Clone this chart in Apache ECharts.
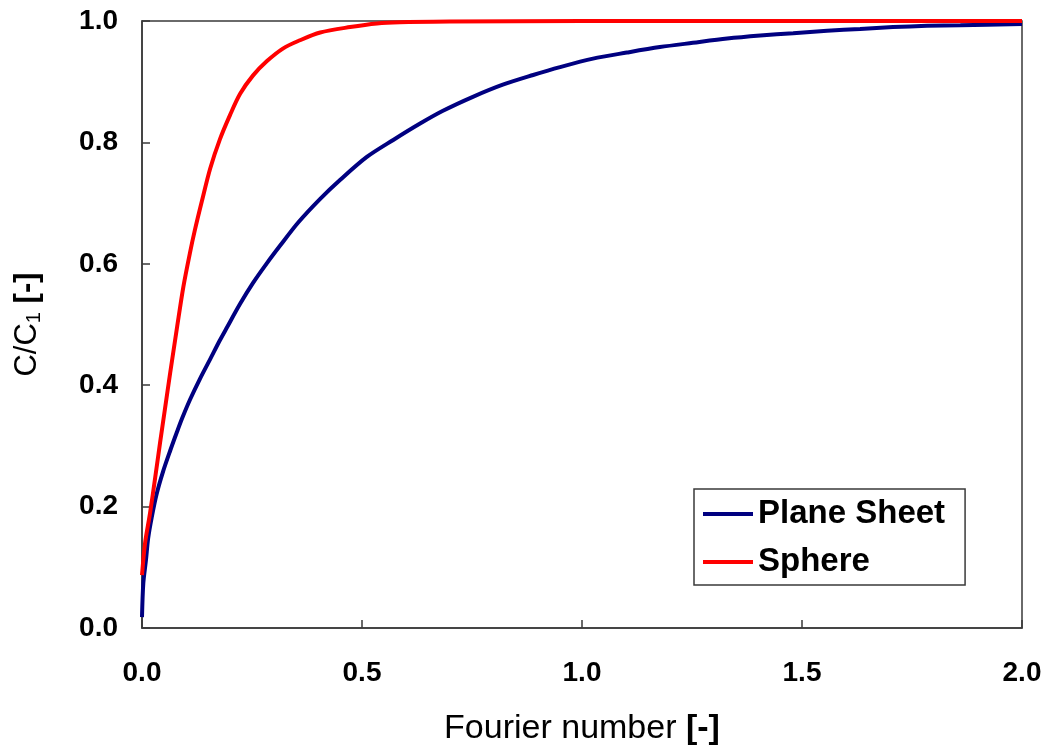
<!DOCTYPE html>
<html>
<head>
<meta charset="utf-8">
<script src="https://cdn.jsdelivr.net/npm/echarts@6/dist/echarts.min.js"></script>
<style>
  html, body { margin: 0; padding: 0; background: #fff; }
  #chart { width: 1048px; height: 751px; }
</style>
</head>
<body>
<div id="chart"></div>
<script>
// Fractional uptake C/C1 against Fourier number for two geometries
const seriesNames = ['Plane Sheet', 'Sphere'];

const foPlane = [0, 0.003, 0.009, 0.014, 0.022, 0.033, 0.048, 0.064, 0.079, 0.091,
  0.109, 0.132, 0.155, 0.177, 0.193, 0.223, 0.252, 0.284, 0.314, 0.355,
  0.405, 0.45, 0.511, 0.571, 0.632, 0.684, 0.752, 0.820, 0.889, 0.95,
  1.025, 1.102, 1.177, 1.252, 1.33, 1.405, 1.48, 1.557, 1.632, 1.707,
  1.784, 1.86, 2.0];
const cPlane = [0.018, 0.074, 0.112, 0.148, 0.182, 0.220, 0.258, 0.292, 0.322, 0.345,
  0.376, 0.411, 0.443, 0.474, 0.495, 0.534, 0.568, 0.601, 0.630, 0.668,
  0.707, 0.738, 0.776, 0.804, 0.831, 0.852, 0.875, 0.895, 0.911, 0.924,
  0.938, 0.948, 0.957, 0.964, 0.971, 0.976, 0.980, 0.984, 0.987, 0.990,
  0.992, 0.993, 0.995];

const foSphere = [0, 0.007, 0.018, 0.030, 0.041, 0.052, 0.064, 0.080, 0.094, 0.109,
  0.120, 0.136, 0.155, 0.177, 0.200, 0.223, 0.252, 0.284, 0.321, 0.355,
  0.405, 0.473, 0.534, 0.586, 0.70, 1.0, 2.0];
const cSphere = [0.087, 0.140, 0.188, 0.248, 0.305, 0.360, 0.420, 0.497, 0.562, 0.618,
  0.655, 0.703, 0.757, 0.805, 0.845, 0.880, 0.910, 0.934, 0.955, 0.967,
  0.981, 0.990, 0.996, 0.998, 0.999, 1.0, 1.0];

const xTicks = { min: 0, max: 2, interval: 0.5 };
const yTicks = { min: 0, max: 1, interval: 0.2 };

const pairs = (xs, ys) => xs.map((x, i) => [x, ys[i]]);

const FONT = '"Liberation Sans", Arial, sans-serif';
const AXIS_COLOR = '#3a3a3a';

const chart = echarts.init(document.getElementById('chart'), null, { renderer: 'canvas' });

chart.setOption({
  animation: false,
  backgroundColor: '#ffffff',
  textStyle: { fontFamily: FONT },
  grid: {
    left: 142, right: 26, top: 21, bottom: 123,
    show: true, borderColor: AXIS_COLOR, borderWidth: 1.5,
    backgroundColor: 'transparent'
  },
  legend: {
    orient: 'vertical',
    left: 694, top: 489,
    padding: [7, 20, 5, 9],
    itemGap: 12,
    itemWidth: 50, itemHeight: 4,
    itemTextGap: 9,
    icon: 'rect',
    borderColor: AXIS_COLOR, borderWidth: 1.5,
    backgroundColor: '#ffffff',
    textStyle: {
      fontFamily: FONT, fontWeight: 'bold', fontSize: 33,
      color: '#000', lineHeight: 36
    },
    data: seriesNames
  },
  xAxis: {
    type: 'value',
    min: xTicks.min, max: xTicks.max, interval: xTicks.interval,
    name: '{t|Fourier number }{b|[-]}',
    nameLocation: 'middle',
    nameGap: 84,
    nameTextStyle: {
      rich: {
        t: { fontFamily: FONT, fontSize: 34, color: '#000' },
        b: { fontFamily: FONT, fontSize: 34, fontWeight: 'bold', color: '#000' }
      }
    },
    axisLine: { show: true, lineStyle: { color: AXIS_COLOR, width: 1.5 } },
    axisTick: { show: true, inside: true, length: 8, lineStyle: { color: AXIS_COLOR, width: 1.5 } },
    axisLabel: {
      margin: 31, fontFamily: FONT, fontSize: 28, fontWeight: 'bold', color: '#000',
      formatter: v => v.toFixed(1)
    },
    splitLine: { show: false }
  },
  yAxis: {
    type: 'value',
    min: yTicks.min, max: yTicks.max, interval: yTicks.interval,
    name: '{t|C/C}{s|1}{b| [-]}',
    nameLocation: 'middle',
    nameGap: 98,
    nameRotate: 90,
    nameTextStyle: {
      rich: {
        t: { fontFamily: FONT, fontSize: 31, color: '#000', lineHeight: 34 },
        s: { fontFamily: FONT, fontSize: 20, color: '#000', lineHeight: 34, verticalAlign: 'bottom', padding: [12, 0, 0, 0] },
        b: { fontFamily: FONT, fontSize: 31, fontWeight: 'bold', color: '#000', lineHeight: 34 }
      }
    },
    axisLine: { show: true, lineStyle: { color: AXIS_COLOR, width: 1.5 } },
    axisTick: { show: true, inside: true, length: 8, lineStyle: { color: AXIS_COLOR, width: 1.5 } },
    axisLabel: {
      margin: 24, fontFamily: FONT, fontSize: 28, fontWeight: 'bold', color: '#000',
      formatter: v => v.toFixed(1)
    },
    splitLine: { show: false }
  },
  series: [
    {
      name: seriesNames[0],
      type: 'line',
      data: pairs(foPlane, cPlane),
      showSymbol: false, symbol: 'none',
      smooth: 0.3,
      clip: false,
      color: '#000080',
      lineStyle: { color: '#000080', width: 4 },
      z: 3
    },
    {
      name: seriesNames[1],
      type: 'line',
      data: pairs(foSphere, cSphere),
      showSymbol: false, symbol: 'none',
      smooth: 0.3,
      clip: false,
      color: '#ff0000',
      lineStyle: { color: '#ff0000', width: 4 },
      z: 4
    }
  ]
});
</script>
</body>
</html>
